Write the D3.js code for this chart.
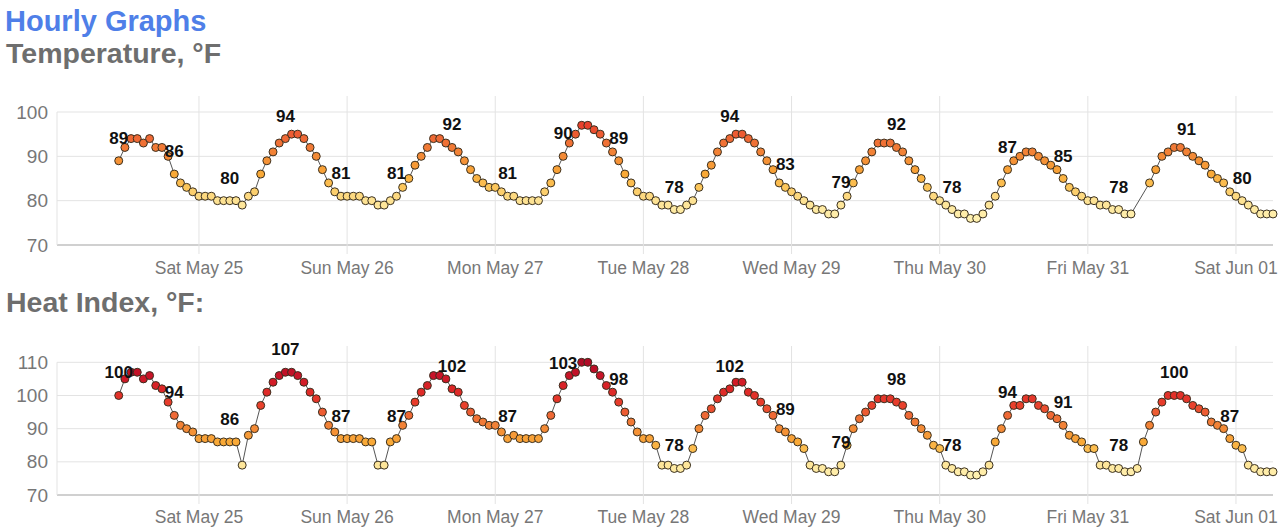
<!DOCTYPE html>
<html>
<head>
<meta charset="utf-8">
<script src="https://cdn.jsdelivr.net/npm/d3@7"></script>
<style>
  html, body { margin: 0; padding: 0; background: #fff; }
  svg { display: block; font-family: "Liberation Sans", Arial, Helvetica, sans-serif; }
</style>
</head>
<body>
<svg id="chart" width="1280" height="532"></svg>
<script>
// ---- data (hourly, starting Fri May 24 11:00) ----
const startTime = Date.UTC(2024, 4, 24, 11);
const temperature = [
  89,92,94,94,93,94,92,92,90,86,84,83,82,81,81,81,80,80,80,80,79,81,82,86,
  89,91,93,94,95,95,94,92,90,87,84,82,81,81,81,81,80,80,79,79,80,81,83,85,
  88,90,92,94,94,93,92,91,89,87,85,84,83,83,82,81,81,80,80,80,80,82,84,87,
  90,93,95,97,97,96,95,93,91,89,86,84,82,81,81,80,79,79,78,78,79,80,83,86,
  88,91,93,94,95,95,94,93,91,89,87,84,83,82,81,80,79,78,78,77,77,79,81,84,
  87,89,91,93,93,93,92,91,89,87,85,83,81,80,79,78,77,77,76,76,77,79,81,84,
  87,89,90,91,91,90,89,88,87,85,83,82,81,80,80,79,79,78,78,77,77,null,null,84,
  87,90,91,92,92,91,90,89,88,86,85,84,82,81,80,79,78,77,77,77
];
const heatIndex = [
  100,105,107,107,105,106,103,102,98,94,91,90,89,87,87,87,86,86,86,86,79,88,90,97,
  101,104,106,107,107,106,104,101,99,95,91,89,87,87,87,87,86,86,79,79,86,87,91,94,
  98,101,103,106,106,105,102,101,97,95,93,92,91,91,89,87,88,87,87,87,87,90,94,99,
  103,106,107,110,110,108,106,103,101,98,95,92,89,87,87,85,79,79,78,78,79,84,90,94,
  96,99,101,102,104,104,101,100,98,96,94,90,89,87,86,84,79,78,78,77,77,79,85,90,
  93,95,97,99,99,99,98,97,94,92,90,88,85,84,79,78,77,77,76,76,77,79,86,90,
  94,97,97,99,99,97,96,94,93,91,88,87,86,84,84,79,79,78,78,77,77,78,86,91,
  95,98,100,100,100,99,97,96,95,92,91,90,87,85,84,79,78,77,77,77
];
const tempTicks = [70, 80, 90, 100];
const heatTicks = [70, 80, 90, 100, 110];
const colorStops = [76, 80, 83, 86, 90, 94, 97, 102, 106, 110];
const colorRange = ["#fff1b0","#fde293","#fcc65a","#f9a937","#f38a36","#ef6935","#e9412c","#dd2627","#c81428","#b00a26"];

// ---- layout ----
const svg = d3.select("#chart");
const x = d3.scaleUtc()
  .domain([Date.UTC(2024, 4, 24, 1), Date.UTC(2024, 5, 1, 6)])
  .range([57, 1273]);
const color = d3.scaleLinear().domain(colorStops).range(colorRange).clamp(true);
const dayTicks = d3.utcDay.range(Date.UTC(2024, 4, 25), Date.UTC(2024, 5, 1, 1));
const fmt = d3.utcFormat("%a %b %d");

svg.append("text").attr("x", 5).attr("y", 31)
  .attr("font-size", 29).attr("font-weight", "bold").attr("fill", "#4f7fe8")
  .text("Hourly Graphs");

function panel(opts) {
  const { values, ticks, yDomain, yRange, title, titleY, plotTop, axisLabelY } = opts;
  const y = d3.scaleLinear().domain(yDomain).range(yRange);
  const g = svg.append("g");

  g.append("text").attr("x", 6).attr("y", titleY)
    .attr("font-size", 28.5).attr("font-weight", "bold").attr("fill", "#6e6e6e")
    .text(title);

  // horizontal grid
  g.selectAll("line.hg").data(ticks).join("line")
    .attr("x1", x.range()[0]).attr("x2", x.range()[1])
    .attr("y1", d => y(d)).attr("y2", d => y(d))
    .attr("stroke", d => d === ticks[0] ? "#d0d0d0" : "#e3e3e3")
    .attr("stroke-width", d => d === ticks[0] ? 2 : 1);

  // left edge line
  g.append("line")
    .attr("x1", x.range()[0]).attr("x2", x.range()[0])
    .attr("y1", y(ticks[ticks.length - 1])).attr("y2", y(ticks[0]))
    .attr("stroke", "#e3e3e3");

  // vertical day grid
  g.selectAll("line.vg").data(dayTicks).join("line")
    .attr("x1", d => x(d)).attr("x2", d => x(d))
    .attr("y1", plotTop).attr("y2", y(ticks[0]) + 9)
    .attr("stroke", "#e3e3e3");

  // y labels
  g.selectAll("text.yl").data(ticks).join("text")
    .attr("x", 48).attr("y", d => y(d) + 6.5)
    .attr("text-anchor", "end").attr("font-size", 19).attr("fill", "#777")
    .text(d => d);

  // x labels
  g.selectAll("text.xl").data(dayTicks).join("text")
    .attr("x", d => x(d)).attr("y", axisLabelY)
    .attr("text-anchor", "middle").attr("font-size", 17.5).attr("fill", "#777")
    .text(d => fmt(new Date(d)));

  const pts = values.map((v, i) => ({ t: startTime + i * 3600e3, v }))
    .filter(d => d.v !== null);

  const line = d3.line().x(d => x(d.t)).y(d => y(d.v));
  g.append("path").datum(pts).attr("d", line)
    .attr("fill", "none").attr("stroke", "#555").attr("stroke-width", 1);

  g.selectAll("circle").data(pts).join("circle")
    .attr("cx", d => x(d.t)).attr("cy", d => y(d.v)).attr("r", 4)
    .attr("fill", d => color(d.v)).attr("stroke", "#3a3020").attr("stroke-width", 1);

  g.selectAll("text.lab").data(pts.filter((d, i) => i % 9 === 0)).join("text")
    .attr("x", d => x(d.t)).attr("y", d => y(d.v) - 17)
    .attr("text-anchor", "middle").attr("font-size", 17).attr("font-weight", "bold")
    .attr("fill", "#111")
    .text(d => d.v);
}

panel({
  values: temperature, ticks: tempTicks, yDomain: [70, 100], yRange: [245, 112],
  title: "Temperature, °F", titleY: 63, plotTop: 96, axisLabelY: 274
});
panel({
  values: heatIndex, ticks: heatTicks, yDomain: [70, 110], yRange: [495, 362.3],
  title: "Heat Index, °F:", titleY: 312, plotTop: 346, axisLabelY: 523
});
</script>
</body>
</html>
